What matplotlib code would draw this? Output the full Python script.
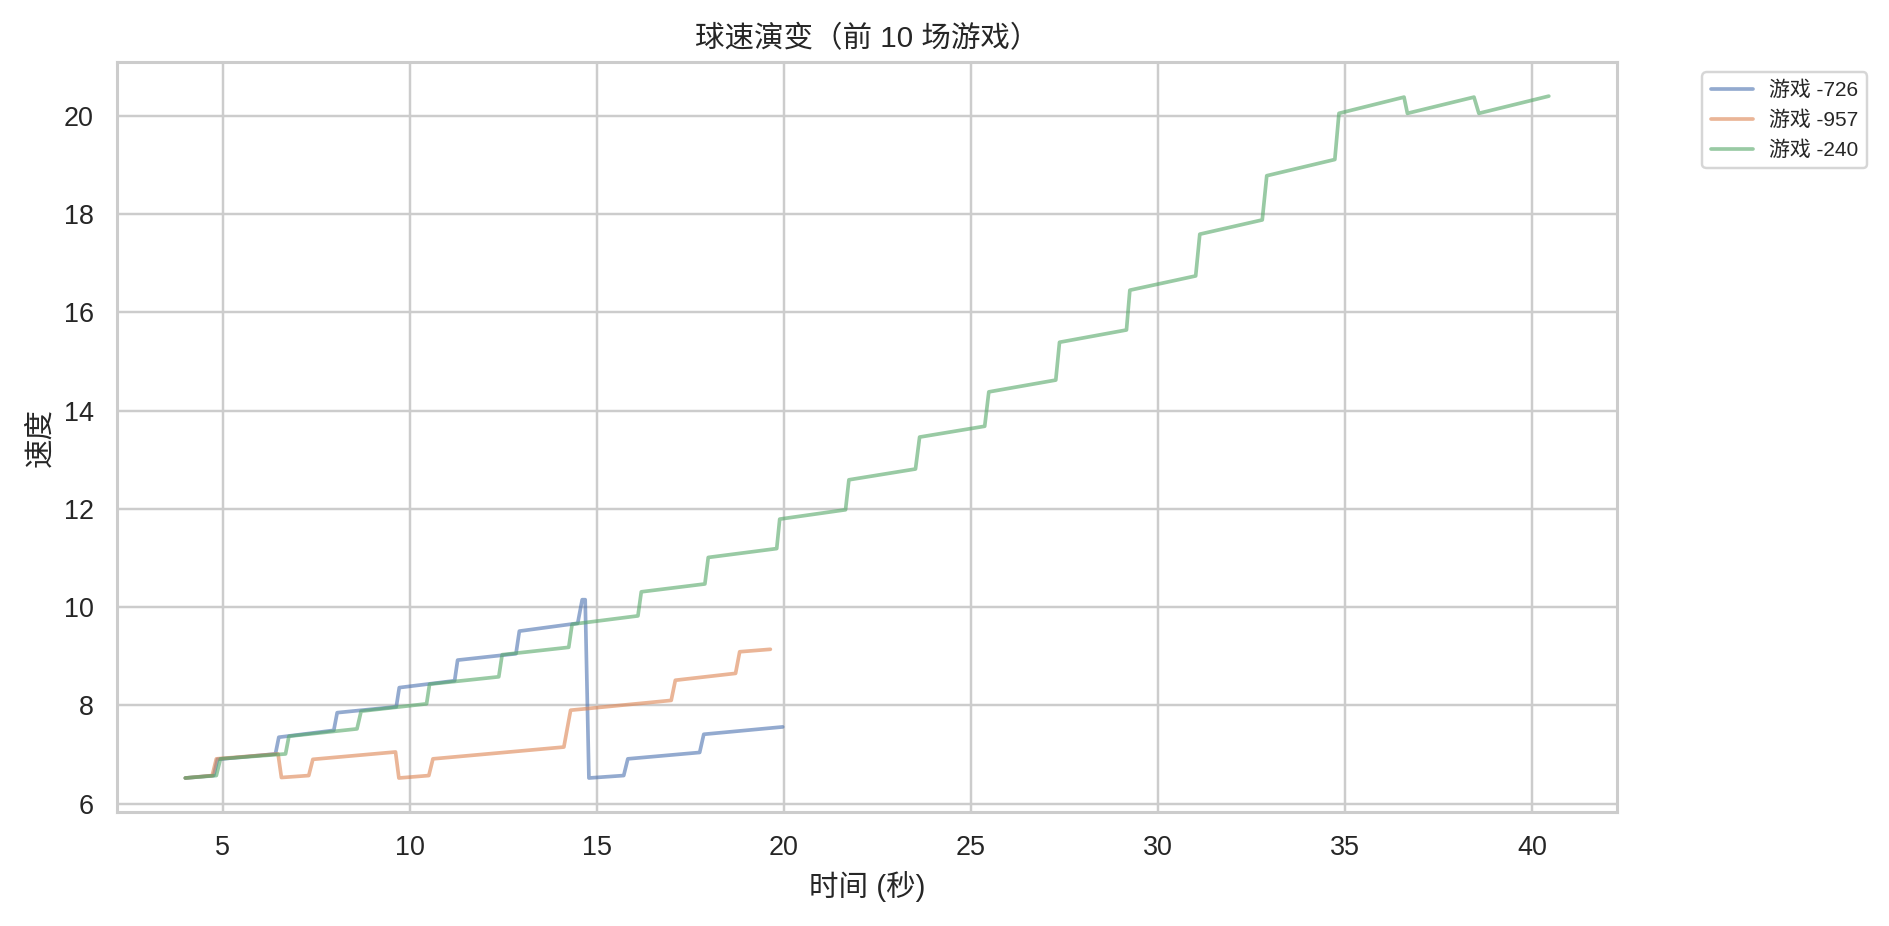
import matplotlib
matplotlib.use('Agg')
from matplotlib import pyplot as plt
import seaborn as sns

# game 726
t_726 = [4.0, 4.76, 4.86, 6.41, 6.50, 7.97, 8.06, 9.64, 9.72, 11.20, 11.28,
         12.84, 12.93, 14.49, 14.61, 14.69, 14.79, 15.72, 15.83, 17.75, 17.86, 19.97]
v_726 = [6.52, 6.57, 6.90, 7.01, 7.35, 7.49, 7.85, 7.97, 8.36, 8.50, 8.92,
         9.05, 9.51, 9.67, 10.15, 10.15, 6.52, 6.57, 6.91, 7.04, 7.41, 7.56]

# game 957
t_957 = [4.0, 4.72, 4.83, 6.48, 6.57, 7.30, 7.41, 9.62, 9.71, 10.51, 10.62,
         14.12, 14.30, 16.99, 17.10, 18.71, 18.82, 19.64]
v_957 = [6.52, 6.57, 6.91, 7.01, 6.53, 6.57, 6.90, 7.05, 6.52, 6.57, 6.91,
         7.15, 7.90, 8.10, 8.51, 8.65, 9.09, 9.14]

# game 240
t_240 = [4.0, 4.83, 4.94, 6.68, 6.77, 8.59, 8.70, 10.45, 10.53, 12.38, 12.47,
         14.25, 14.34, 16.10, 16.19, 17.89, 17.98, 19.81, 19.89, 21.65, 21.74,
         23.52, 23.63, 25.37, 25.48, 27.27, 27.37, 29.16, 29.25, 31.01, 31.12,
         32.79, 32.91, 34.73, 34.84, 36.58, 36.67, 38.45, 38.58, 40.45]
v_240 = [6.52, 6.57, 6.91, 7.01, 7.37, 7.52, 7.88, 8.03, 8.43, 8.58, 9.03,
         9.18, 9.65, 9.82, 10.31, 10.47, 11.01, 11.19, 11.79, 11.98, 12.59,
         12.81, 13.46, 13.68, 14.38, 14.62, 15.39, 15.64, 16.45, 16.74, 17.59,
         17.88, 18.78, 19.11, 20.05, 20.38, 20.05, 20.38, 20.05, 20.40]

games = [('游戏 -726', t_726, v_726),
         ('游戏 -957', t_957, v_957),
         ('游戏 -240', t_240, v_240)]

sns.set_theme(style='whitegrid')
plt.rcParams['font.family'] = ['Liberation Sans', 'Noto Sans CJK SC', 'DejaVu Sans']
plt.rcParams['axes.unicode_minus'] = False

DPI = 177
fig = plt.figure(figsize=(1889 / DPI, 926 / DPI), dpi=DPI)
ax = fig.add_axes([0.062, 0.123, 0.794, 0.81])

for label, t, v in games:
    ax.plot(t, v, label=label, alpha=0.6)

ax.set_title('球速演变（前 10 场游戏）')
ax.set_xlabel('时间 (秒)')
ax.set_ylabel('速度')
ax.legend(bbox_to_anchor=(1.05, 1), loc='upper left', fontsize=8.5)

fig.savefig('out.png', dpi=DPI)
